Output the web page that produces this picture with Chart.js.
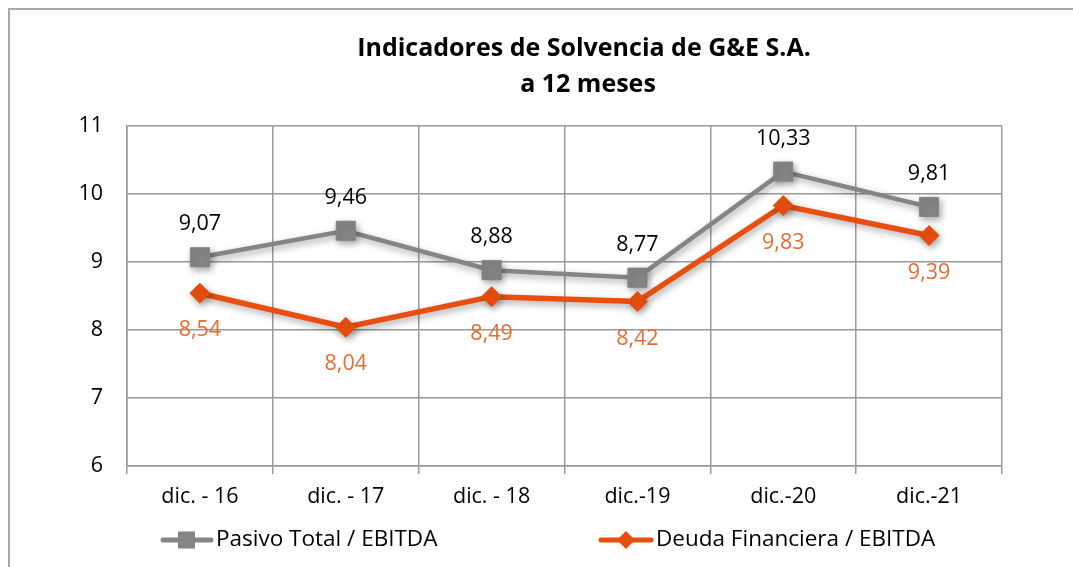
<!DOCTYPE html>
<html>
<head>
<meta charset="utf-8">
<script src="https://cdn.jsdelivr.net/npm/chart.js@4.4.1/dist/chart.umd.min.js"></script>
<style>
  html, body { margin: 0; padding: 0; background: #fff; overflow: hidden; }
  #wrap { position: relative; width: 1073px; height: 567px; }
</style>
</head>
<body>
<div id="wrap"><canvas id="chart" width="1073" height="567"></canvas></div>
<script>
// chart data
const categories = ["dic. - 16", "dic. - 17", "dic. - 18", "dic.-19", "dic.-20", "dic.-21"];
const pasivoTotal = [9.07, 9.46, 8.88, 8.77, 10.33, 9.81];
const deudaFinanciera = [8.54, 8.04, 8.49, 8.42, 9.83, 9.39];
const yTicks = [6, 7, 8, 9, 10, 11];
const titleLines = ["Indicadores de Solvencia de G&E S.A.", "a 12 meses"];
const seriesNames = ["Pasivo Total / EBITDA", "Deuda Financiera / EBITDA"];

const FONT = "'Open Sans', Lato, sans-serif";
const GRAY = "#858585";
const ORANGE = "#E84E0F";
const ORANGE_TEXT = "#EB6A2F";
const GRID = "#9a9a9a";

const fmt = (v)=>v.toFixed(2).replace(".", ",");

// Excel style soft shadow under the series
const shadowPlugin = {
  id: "shadow",
  beforeDatasetsDraw(chart){
    const ctx = chart.ctx;
    ctx.save();
    ctx.shadowColor = "rgba(0,0,0,0.35)";
    ctx.shadowBlur = 7;
    ctx.shadowOffsetX = 2;
    ctx.shadowOffsetY = 3;
  },
  afterDatasetsDraw(chart){
    chart.ctx.restore();
  }
};

// value labels, gray above the point, orange below
const valueLabels = {
  id: "valueLabels",
  afterDatasetsDraw(chart){
    const ctx = chart.ctx;
    ctx.save();
    ctx.font = "21.5px " + FONT;
    ctx.textAlign = "center";
    ctx.textBaseline = "middle";
    chart.data.datasets.forEach((ds, i)=>{
      const meta = chart.getDatasetMeta(i);
      meta.data.forEach((pt, j)=>{
        const above = i === 0;
        ctx.fillStyle = above ? "#000" : ORANGE_TEXT;
        ctx.fillText(fmt(ds.data[j]), pt.x, above ? pt.y - 33 : pt.y + 37);
      });
    });
    ctx.restore();
  }
};

// outer frame, title and legend like the Excel original
const decor = {
  id: "decor",
  afterDraw(chart){
    const ctx = chart.ctx;
    ctx.save();

    // frame (right and bottom edges fall outside the picture)
    ctx.strokeStyle = "#a8a8a8";
    ctx.lineWidth = 2;
    ctx.beginPath();
    ctx.moveTo(9, 600);
    ctx.lineTo(9, 9);
    ctx.lineTo(1100, 9);
    ctx.stroke();

    // title
    ctx.fillStyle = "#000";
    ctx.font = "bold 25px " + FONT;
    ctx.textAlign = "center";
    ctx.textBaseline = "middle";
    ctx.fillText(titleLines[0], 584, 49);
    ctx.fillText(titleLines[1], 588, 85);

    // legend
    const ly = 540;
    ctx.lineCap = "round";
    ctx.lineWidth = 5;
    ctx.strokeStyle = GRAY;
    ctx.beginPath(); ctx.moveTo(163, ly); ctx.lineTo(211, ly); ctx.stroke();
    ctx.fillStyle = GRAY;
    ctx.fillRect(178, ly - 8.5, 17, 17);

    ctx.strokeStyle = ORANGE;
    ctx.beginPath(); ctx.moveTo(601, ly); ctx.lineTo(651, ly); ctx.stroke();
    ctx.fillStyle = ORANGE;
    ctx.beginPath();
    ctx.moveTo(626, ly - 9); ctx.lineTo(635, ly); ctx.lineTo(626, ly + 9); ctx.lineTo(617, ly);
    ctx.closePath(); ctx.fill();

    ctx.fillStyle = "#000";
    ctx.font = "22.5px " + FONT;
    ctx.textAlign = "left";
    ctx.fillText(seriesNames[0], 216, ly);
    ctx.fillText(seriesNames[1], 656, ly);
    ctx.restore();
  }
};

new Chart(document.getElementById("chart"), {
  type: "line",
  data: {
    labels: categories,
    datasets: [
      {
        label: seriesNames[0],
        data: pasivoTotal,
        borderColor: GRAY,
        backgroundColor: GRAY,
        borderWidth: 4.5,
        pointStyle: "rect",
        pointRadius: 13.5,
        pointBorderWidth: 1,
        tension: 0,
        order: 1
      },
      {
        label: seriesNames[1],
        data: deudaFinanciera,
        borderColor: ORANGE,
        backgroundColor: ORANGE,
        borderWidth: 5.5,
        pointStyle: "rectRot",
        pointRadius: 10,
        pointBorderWidth: 1,
        tension: 0,
        order: 0
      }
    ]
  },
  options: {
    responsive: false,
    animation: false,
    layout: { padding: { left: 0, right: 71, top: 126, bottom: 41 } },
    plugins: {
      legend: { display: false },
      title: { display: false },
      tooltip: { enabled: false }
    },
    scales: {
      x: {
        offset: true,
        afterFit: (s)=>{ s.height = 60; },
        grid: { offset: true, color: GRID, lineWidth: 1.5, drawTicks: true, tickLength: 8 },
        border: { color: GRID, width: 1.5 },
        ticks: { color: "#000", font: { family: FONT, size: 21.5 }, padding: 10, maxRotation: 0 }
      },
      y: {
        min: yTicks[0],
        max: yTicks[yTicks.length - 1],
        afterFit: (s)=>{ s.width = 127; },
        afterBuildTicks: (s)=>{ s.ticks = yTicks.map(v=>({ value: v })); },
        grid: { color: GRID, lineWidth: 1.5, drawTicks: false },
        border: { color: GRID, width: 1.5 },
        ticks: { color: "#000", font: { family: FONT, size: 21.5 }, padding: 24 }
      }
    }
  },
  plugins: [shadowPlugin, valueLabels, decor]
});
</script>
</body>
</html>
